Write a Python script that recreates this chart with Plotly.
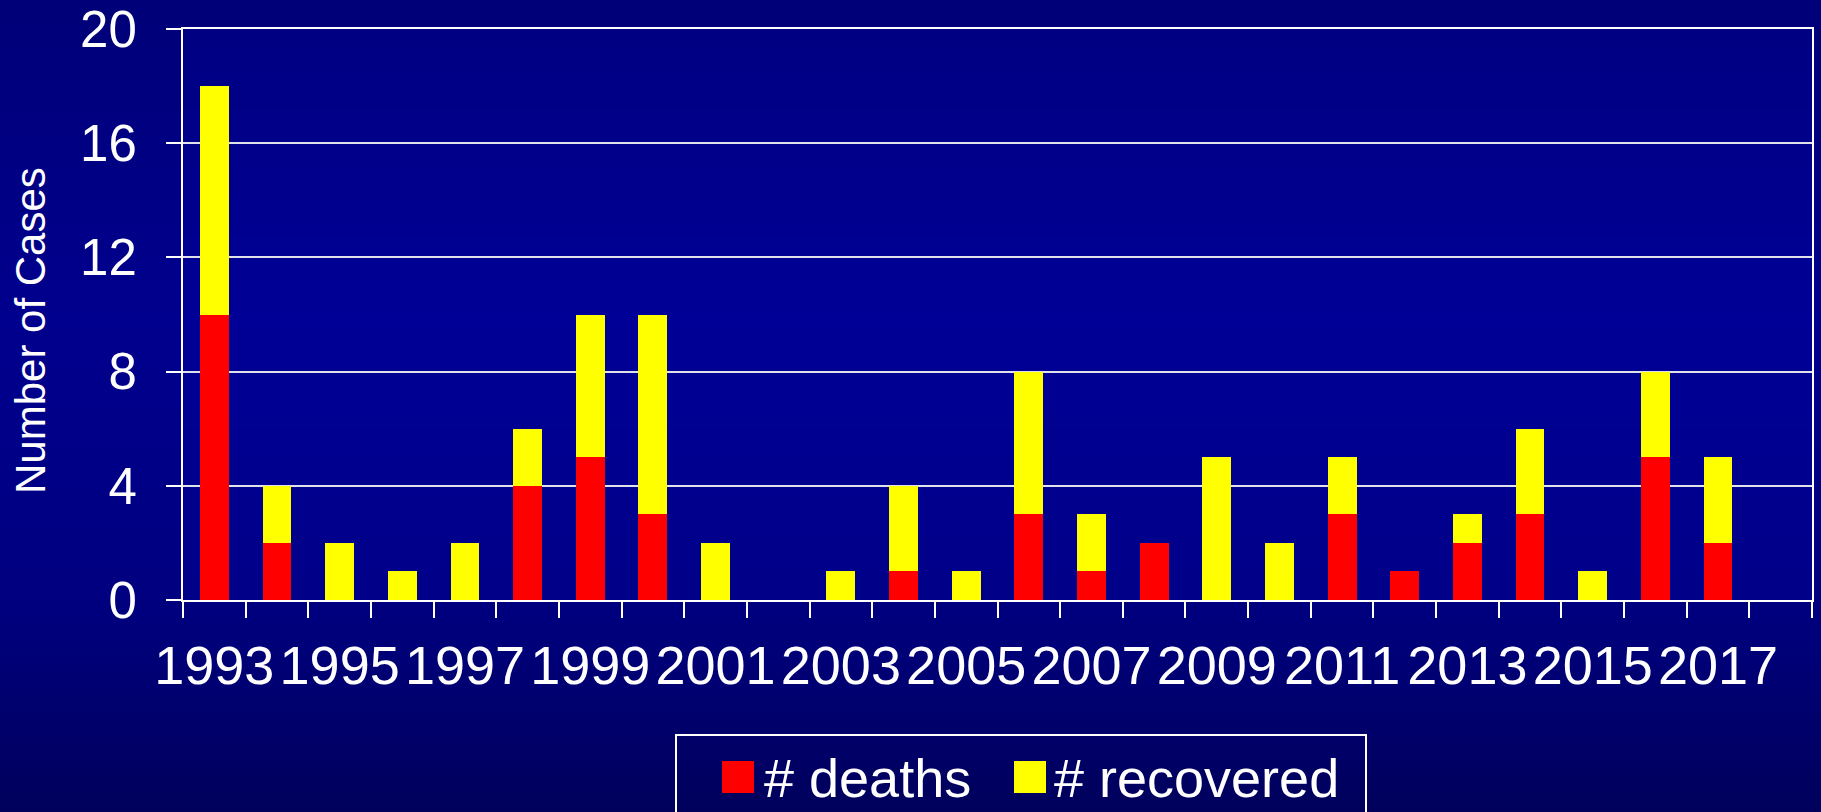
import plotly.graph_objects as go

years = list(range(1993, 2019))
deaths = [10, 2, 0, 0, 0, 4, 5, 3, 0, 0, 0, 1, 0, 3, 1, 2, 0, 0, 3, 1, 2, 3, 0, 5, 2, 0]
recovered = [8, 2, 2, 1, 2, 2, 5, 7, 2, 0, 1, 3, 1, 5, 2, 0, 5, 2, 2, 0, 1, 3, 1, 3, 3, 0]
tick_years = list(range(1993, 2018, 2))
tick_labels = [str(y) for y in tick_years]
series_names = ["# deaths", "# recovered"]
series_colors = ["#FF0000", "#FFFF00"]
y_title = "Number of Cases"

W, H = 1821, 812
L, R, T, B = 183, 9, 29, 212
PW, PH = W - L - R, H - T - B
FONT = "Liberation Sans, Arial, sans-serif"


def px_x(x):
    return (x - L) / PW


def px_y(y):
    return (H - B - y) / PH


def outer_blue(y):
    pts = [(0, 120), (320, 142), (600, 128), (812, 92)]
    for (y0, b0), (y1, b1) in zip(pts[:-1], pts[1:]):
        if y0 <= y <= y1:
            return b0 + (b1 - b0) * (y - y0) / (y1 - y0)
    return pts[-1][1]


shapes = []
step = 8
for y in range(0, H, step):
    b = int(round(outer_blue(y + step / 2)))
    shapes.append(dict(type="rect", xref="paper", yref="paper", layer="below",
                       x0=px_x(-2), x1=px_x(W + 2), y0=px_y(y + step), y1=px_y(y),
                       fillcolor=f"rgb(0,0,{b})", line=dict(width=0)))
for y in range(T, H - B, step):
    b = int(round(outer_blue(y + step / 2))) + 8
    shapes.append(dict(type="rect", xref="paper", yref="paper", layer="below",
                       x0=0, x1=1, y0=max(0, px_y(y + step)), y1=px_y(y),
                       fillcolor=f"rgb(0,0,{b})", line=dict(width=0)))

# legend box
shapes.append(dict(type="rect", xref="paper", yref="paper",
                   x0=px_x(676), x1=px_x(1366), y0=px_y(840), y1=px_y(735),
                   line=dict(color="white", width=2), fillcolor="rgba(0,0,0,0)"))
leg_items = [(722, 762), (1014, 1052)]
annotations = []
for (sq_x, tx), name, col in zip(leg_items, series_names, series_colors):
    shapes.append(dict(type="rect", xref="paper", yref="paper",
                       x0=px_x(sq_x), x1=px_x(sq_x + 32), y0=px_y(793), y1=px_y(761),
                       line=dict(width=0), fillcolor=col))
    annotations.append(dict(xref="paper", yref="paper", x=px_x(tx), y=px_y(778),
                            text=name, showarrow=False, xanchor="left", yanchor="middle",
                            font=dict(family=FONT, size=54, color="white")))

annotations.append(dict(xref="paper", yref="paper", x=px_x(31), y=px_y(331),
                        text=y_title, textangle=-90, showarrow=False,
                        xanchor="center", yanchor="middle",
                        font=dict(family=FONT, size=42, color="white")))

fig = go.Figure()
for name, vals, col in zip(series_names, [deaths, recovered], series_colors):
    fig.add_trace(go.Bar(x=years, y=vals, name=name, width=0.46,
                         marker=dict(color=col, line=dict(width=0)), showlegend=False))

boundaries = [y - 0.5 for y in years] + [years[-1] + 0.5]

fig.update_layout(
    width=W, height=H,
    margin=dict(l=L, r=R, t=T, b=B, pad=0, autoexpand=False),
    barmode="stack",
    paper_bgcolor="rgb(0,0,110)",
    plot_bgcolor="rgba(0,0,0,0)",
    showlegend=False,
    shapes=shapes,
    annotations=annotations,
    font=dict(family=FONT, color="white"),
    xaxis=dict(
        range=[boundaries[0], boundaries[-1]],
        tickmode="array", tickvals=tick_years, ticktext=tick_labels,
        ticks="outside", ticklen=1, tickcolor="rgba(0,0,0,0)",
        tickfont=dict(family=FONT, size=54, color="white"),
        ticklabelstandoff=16, ticklabeloverflow="allow", automargin=False,
        showgrid=False, zeroline=False,
        showline=True, linecolor="white", linewidth=2, mirror=True,
        minor=dict(tickmode="array", tickvals=boundaries, ticks="outside",
                   ticklen=16, tickcolor="white", tickwidth=2, showgrid=False),
    ),
    yaxis=dict(
        range=[0, 20], tickmode="linear", tick0=0, dtick=4,
        ticks="outside", ticklen=15, tickcolor="white", tickwidth=2,
        tickfont=dict(family=FONT, size=51, color="white"),
        ticklabelstandoff=19, ticklabeloverflow="allow", automargin=False,
        showgrid=True, gridcolor="rgb(225,225,235)", gridwidth=1.5,
        zeroline=False,
        showline=True, linecolor="white", linewidth=2, mirror=True,
    ),
)

fig.write_html(
    "out.html",
    config={"displayModeBar": False},
    post_script="document.body.style.margin='0';document.body.style.overflow='hidden';"
                "document.documentElement.style.background='rgb(0,0,100)';",
)
